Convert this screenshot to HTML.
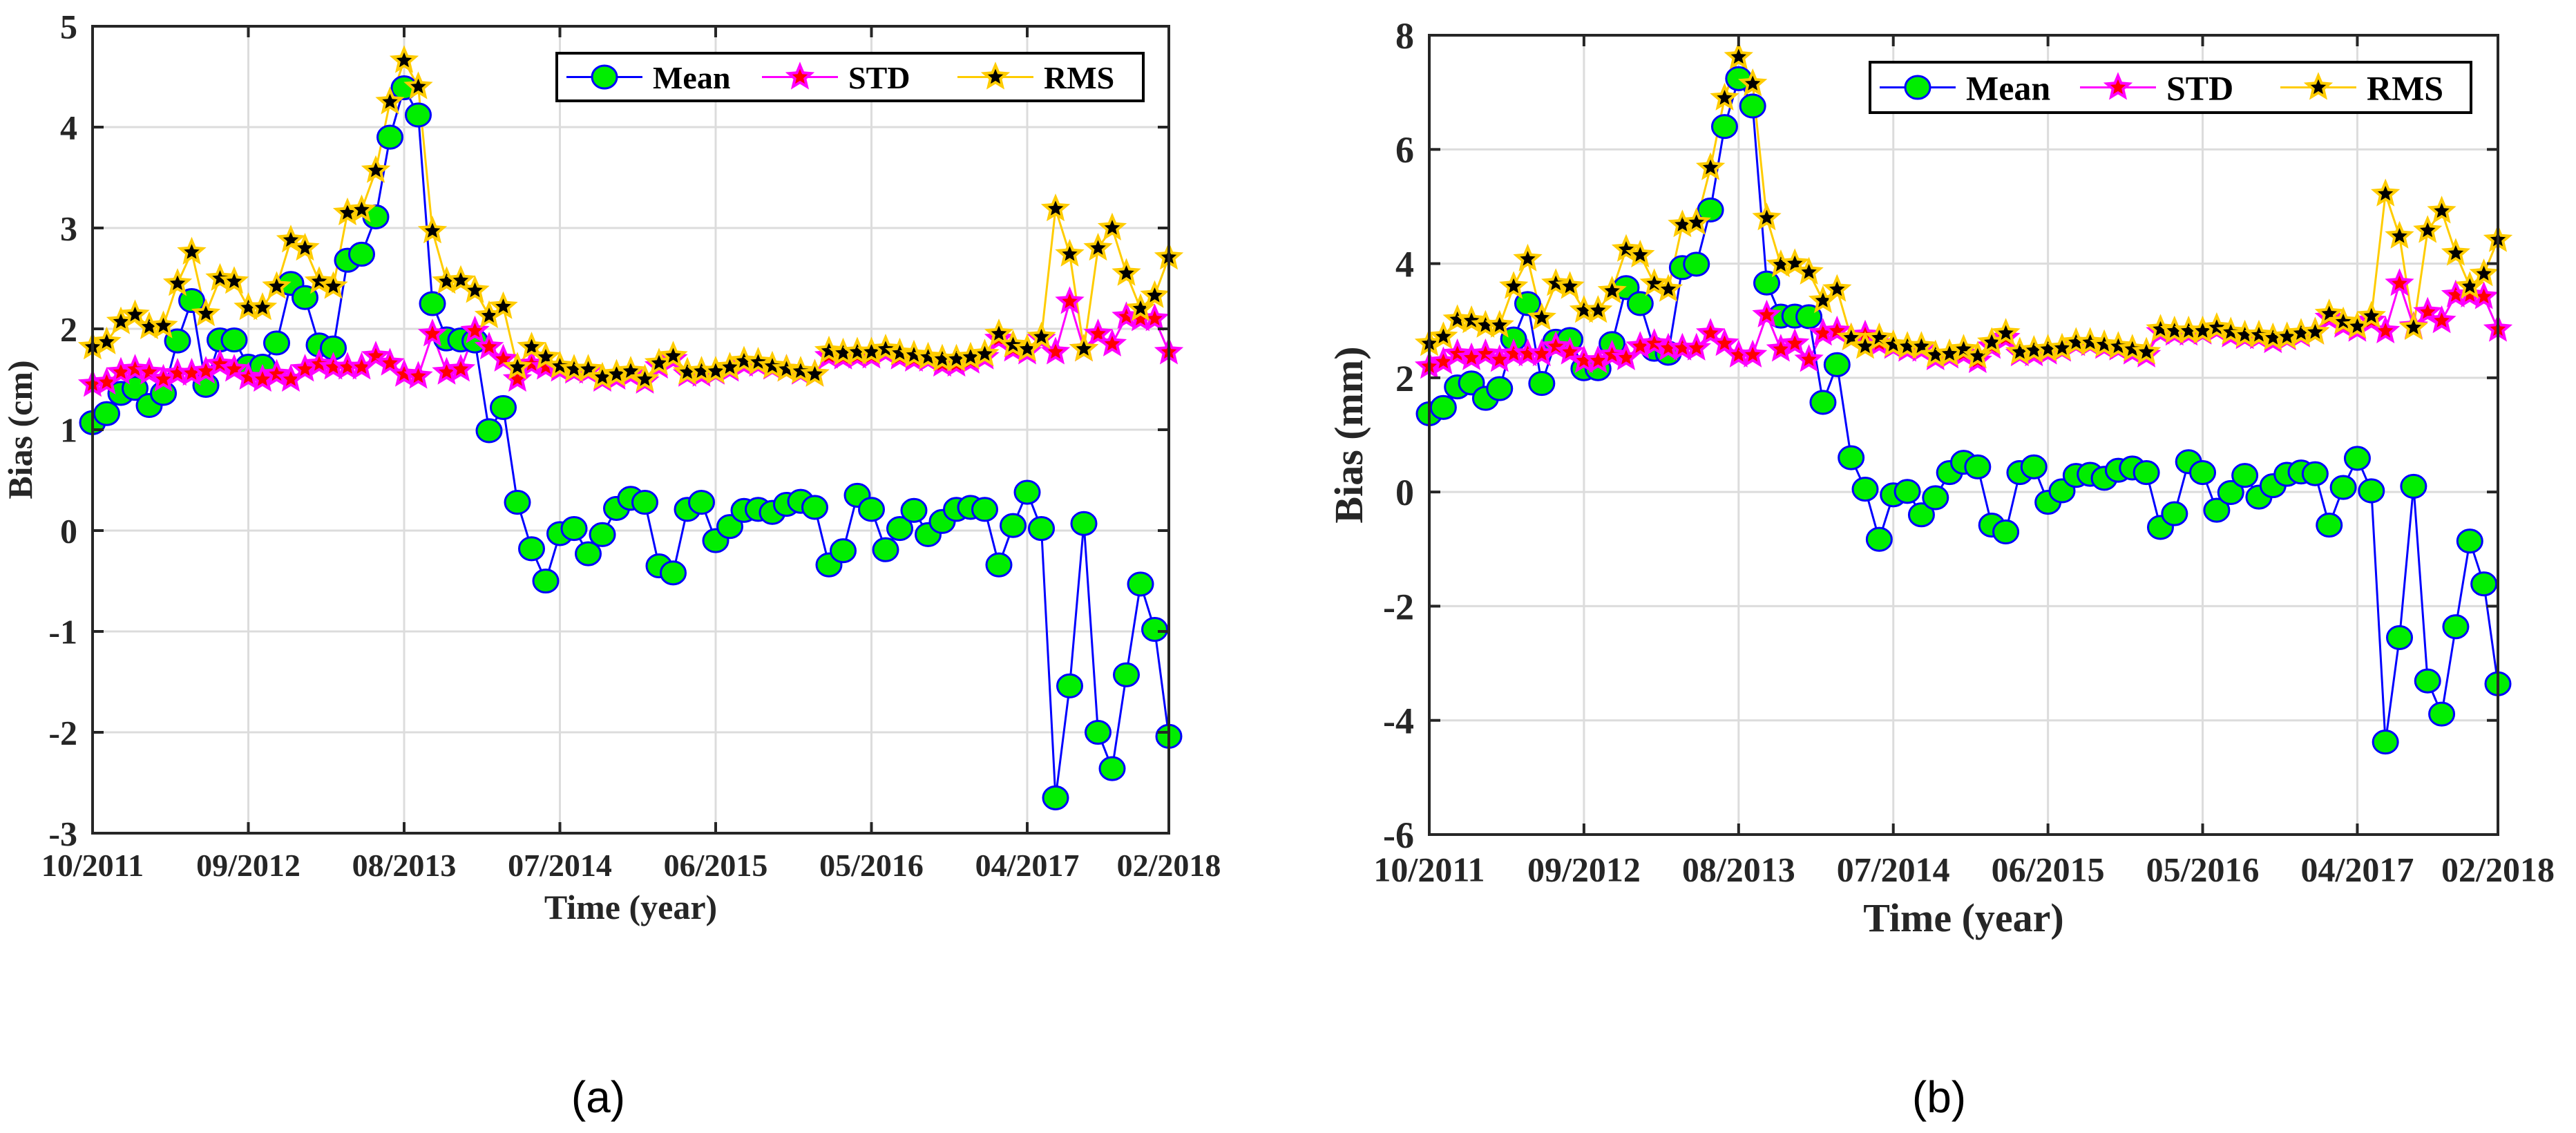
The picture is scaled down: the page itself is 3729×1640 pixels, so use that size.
<!DOCTYPE html>
<html><head><meta charset="utf-8"><style>
html,body{margin:0;padding:0;background:#fff;}
svg{display:block;}
text{font-family:"Liberation Serif",serif;font-weight:bold;fill:#262626;}
</style></head><body>
<svg id="fig" width="3729" height="1640" viewBox="0 0 3729 1640" xmlns="http://www.w3.org/2000/svg">
<text x="866" y="1610" style="font-family:'Liberation Sans',sans-serif;font-weight:normal;font-size:64px;fill:#000" text-anchor="middle">(a)</text>
<text x="2807" y="1610" style="font-family:'Liberation Sans',sans-serif;font-weight:normal;font-size:64px;fill:#000" text-anchor="middle">(b)</text>
</svg>
<script>
const xTickIdx=[0,11,22,33,44,55,66,76];
const xTickLabels=["10/2011","09/2012","08/2013","07/2014","06/2015","05/2016","04/2017","02/2018"];
const meanA=[1.07,1.16,1.36,1.41,1.24,1.36,1.88,2.28,1.44,1.89,1.89,1.63,1.63,1.86,2.45,2.31,1.84,1.81,2.68,2.74,3.11,3.9,4.39,4.12,2.25,1.9,1.89,1.88,0.99,1.22,0.28,-0.18,-0.5,-0.03,0.02,-0.23,-0.04,0.22,0.32,0.28,-0.35,-0.42,0.21,0.28,-0.1,0.04,0.2,0.21,0.18,0.26,0.29,0.23,-0.34,-0.2,0.35,0.21,-0.19,0.02,0.2,-0.04,0.09,0.21,0.23,0.21,-0.34,0.05,0.38,0.02,-2.65,-1.54,0.07,-2.0,-2.36,-1.43,-0.53,-0.98,-2.04];
const stdA=[1.45,1.47,1.57,1.6,1.57,1.5,1.56,1.56,1.58,1.65,1.6,1.52,1.5,1.55,1.5,1.6,1.65,1.62,1.62,1.62,1.73,1.66,1.55,1.53,1.95,1.57,1.6,1.98,1.82,1.7,1.5,1.65,1.62,1.6,1.58,1.58,1.5,1.52,1.55,1.48,1.63,1.7,1.55,1.55,1.57,1.6,1.65,1.65,1.62,1.6,1.57,1.55,1.73,1.72,1.73,1.73,1.77,1.72,1.7,1.7,1.65,1.65,1.68,1.72,1.9,1.8,1.77,1.9,1.77,2.27,1.8,1.95,1.85,2.12,2.1,2.1,1.77];
const rmsA=[1.82,1.87,2.07,2.14,2.02,2.03,2.45,2.76,2.15,2.5,2.47,2.21,2.21,2.42,2.88,2.8,2.47,2.42,3.15,3.18,3.57,4.25,4.66,4.4,2.97,2.47,2.48,2.38,2.13,2.22,1.62,1.82,1.72,1.63,1.6,1.6,1.52,1.55,1.58,1.5,1.66,1.73,1.57,1.58,1.58,1.62,1.68,1.67,1.63,1.6,1.58,1.55,1.78,1.76,1.77,1.77,1.8,1.76,1.74,1.72,1.7,1.7,1.72,1.75,1.95,1.84,1.8,1.92,3.19,2.74,1.8,2.8,3.0,2.55,2.2,2.33,2.71];
const meanB=[1.37,1.48,1.84,1.91,1.64,1.81,2.68,3.3,1.9,2.64,2.67,2.16,2.16,2.6,3.58,3.3,2.5,2.43,3.93,3.99,4.94,6.4,7.24,6.76,3.66,3.08,3.08,3.07,1.57,2.23,0.6,0.05,-0.83,-0.05,0.01,-0.4,-0.1,0.34,0.52,0.44,-0.58,-0.7,0.34,0.44,-0.18,0.02,0.29,0.31,0.24,0.38,0.42,0.34,-0.62,-0.38,0.53,0.34,-0.32,-0.01,0.29,-0.09,0.11,0.31,0.35,0.32,-0.58,0.08,0.59,0.02,-4.38,-2.55,0.1,-3.31,-3.89,-2.36,-0.86,-1.61,-3.36];
const stdB=[2.2,2.28,2.42,2.35,2.42,2.32,2.42,2.42,2.42,2.55,2.45,2.3,2.3,2.4,2.35,2.55,2.6,2.52,2.52,2.52,2.78,2.6,2.4,2.4,3.1,2.5,2.6,2.32,2.78,2.82,2.7,2.75,2.6,2.55,2.5,2.5,2.35,2.38,2.42,2.3,2.55,2.7,2.42,2.42,2.45,2.5,2.6,2.6,2.55,2.52,2.45,2.4,2.8,2.78,2.78,2.8,2.85,2.75,2.72,2.72,2.65,2.7,2.75,2.8,3.05,2.92,2.85,3.0,2.82,3.65,2.9,3.15,3.0,3.45,3.45,3.42,2.85];
const rmsB=[2.6,2.72,3.02,3.0,2.92,2.92,3.6,4.08,3.05,3.65,3.6,3.18,3.18,3.52,4.25,4.15,3.65,3.55,4.68,4.72,5.68,6.9,7.62,7.15,4.8,3.98,4.0,3.85,3.35,3.55,2.7,2.55,2.7,2.58,2.55,2.55,2.4,2.42,2.5,2.38,2.62,2.78,2.45,2.48,2.5,2.52,2.62,2.62,2.58,2.55,2.5,2.45,2.85,2.82,2.82,2.82,2.88,2.8,2.75,2.75,2.7,2.72,2.78,2.8,3.12,2.98,2.9,3.08,5.22,4.48,2.88,4.58,4.92,4.18,3.6,3.82,4.42];
const yTicksA=[-3,-2,-1,0,1,2,3,4,5];
const yTicksB=[-6,-4,-2,0,2,4,6,8];

const NS="http://www.w3.org/2000/svg";
const svg=document.getElementById('fig');
function mk(tag,attrs,parent){const e=document.createElementNS(NS,tag);for(const k in attrs)e.setAttribute(k,attrs[k]);(parent||svg).appendChild(e);return e;}
function starPts(cx,cy,r,ri){let p=[];for(let i=0;i<10;i++){const a=-Math.PI/2+i*Math.PI/5;const rr=i%2?ri:r;p.push((cx+rr*Math.cos(a)).toFixed(1)+','+(cy+rr*Math.sin(a)).toFixed(1));}return p.join(' ');}

function panel(o){
  const g=mk('g',{});
  
  
  const xs=i=>o.x0+(o.x1-o.x0)*i/76;
  const ys=v=>o.y1-(o.y1-o.y0)*(v-o.ymin)/(o.ymax-o.ymin);
  xTickIdx.forEach((t,k)=>{
    const l=mk('line',{x1:xs(t),x2:xs(t),y1:o.y0,y2:o.y1,stroke:'#dcdcdc','stroke-width':3},g);
    
    
  });
  o.yt.forEach(v=>{
    const l=mk('line',{x1:o.x0,x2:o.x1,y1:ys(v),y2:ys(v),stroke:'#dcdcdc','stroke-width':3},g);
    
    
  });
  const series=[
    {d:o.mean,c:'#0000ff',n:'mean'},
    {d:o.std,c:'#ff00ff',n:'std'},
    {d:o.rms,c:'#ffcc00',n:'rms'}];
  [2,1,0].forEach(si=>{
    const s=series[si];
    const pl=mk('polyline',{points:s.d.map((v,i)=>xs(i)+','+ys(v)).join(' '),fill:'none',stroke:s.c,'stroke-width':3},g);
    
    
  });
  o.mean.forEach((v,i)=>{
    const c=mk('ellipse',{cx:xs(i),cy:ys(v),rx:o.mr,ry:o.mr*0.92,fill:'#00ee00',stroke:'#0000ff','stroke-width':3},g);
    
    
  });
  o.std.forEach((v,i)=>{
    const c=mk('polygon',{points:starPts(xs(i),ys(v),o.sr,o.sr*0.45),fill:'#ff0000',stroke:'#ff00ff','stroke-width':4},g);
    
    
  });
  o.rms.forEach((v,i)=>{
    const c=mk('polygon',{points:starPts(xs(i),ys(v),o.sr,o.sr*0.45),fill:'#000',stroke:'#ffcc00','stroke-width':4},g);
    
    
  });
  const bx=mk('rect',{x:o.x0,y:o.y0,width:o.x1-o.x0,height:o.y1-o.y0,fill:'none',stroke:'#262626','stroke-width':4},g);
  
  
  xTickIdx.forEach((t,k)=>{
    mk('line',{x1:xs(t),x2:xs(t),y1:o.y1,y2:o.y1-16,stroke:'#262626','stroke-width':4},g);
    mk('line',{x1:xs(t),x2:xs(t),y1:o.y0,y2:o.y0+16,stroke:'#262626','stroke-width':4},g);
    const tx=mk('text',{x:xs(t),y:o.y1+o.tf*1.35,'text-anchor':'middle','font-size':o.tf},g);
    tx.textContent=xTickLabels[k];
    
    
  });
  o.yt.forEach(v=>{
    mk('line',{x1:o.x0,x2:o.x0+16,y1:ys(v),y2:ys(v),stroke:'#262626','stroke-width':4},g);
    mk('line',{x1:o.x1,x2:o.x1-16,y1:ys(v),y2:ys(v),stroke:'#262626','stroke-width':4},g);
    const tx=mk('text',{x:o.x0-22,y:ys(v)+o.yf*0.35,'text-anchor':'end','font-size':o.yf},g);
    tx.textContent=String(v);
    
    
  });
  const xl=mk('text',{x:(o.x0+o.x1)/2,y:o.xly,'text-anchor':'middle','font-size':o.lf},g);
  xl.textContent='Time (year)';
  
  
  const yl=mk('text',{x:0,y:0,'text-anchor':'middle','font-size':o.lf,transform:`translate(${o.ylx},${(o.y0+o.y1)/2}) rotate(-90)`},g);
  yl.textContent=o.ylabel;
  
  
  const L=o.leg;
  const lg=mk('g',{},g);
  
  
  mk('rect',{x:L.x,y:L.y,width:L.w,height:L.h,fill:'#fff',stroke:'#000','stroke-width':4},lg);
  const cy=L.y+L.h/2;
  const seg=L.w/3;
  ['Mean','STD','RMS'].forEach((nm,k)=>{
    const sx=L.x+14+k*seg;
    const col=series[k].c;
    const ent=mk('g',{},lg);
    
    
    mk('line',{x1:sx,x2:sx+110,y1:cy,y2:cy,stroke:col,'stroke-width':3},ent);
    if(k===0) mk('ellipse',{cx:sx+55,cy:cy,rx:o.mr,ry:o.mr*0.92,fill:'#00ee00',stroke:'#0000ff','stroke-width':3},ent);
    else mk('polygon',{points:starPts(sx+55,cy,o.sr,o.sr*0.45),fill:k===1?'#ff0000':'#000',stroke:col,'stroke-width':4},ent);
    const t=mk('text',{x:sx+125,y:cy+o.tf*0.36,'font-size':o.tf,style:'fill:#000'},ent);
    t.textContent=nm;
  });
}
panel({name:'panel-a-chart',x0:134,x1:1692,y0:38,y1:1206,ymin:-3,ymax:5,yt:yTicksA,mean:meanA,std:stdA,rms:rmsA,
  mr:18,sr:17,tf:46,yf:50,lf:50,xly:1330,ylx:46,ylabel:'Bias (cm)',leg:{x:806,y:77,w:849,h:69}});
panel({name:'panel-b-chart',x0:2069,x1:3616,y0:51,y1:1208,ymin:-6,ymax:8,yt:yTicksB,mean:meanB,std:stdB,rms:rmsB,
  mr:18,sr:17,tf:50,yf:54,lf:58,xly:1348,ylx:1972,ylabel:'Bias (mm)',leg:{x:2707,y:90,w:870,h:73}});
</script>
</body></html>
